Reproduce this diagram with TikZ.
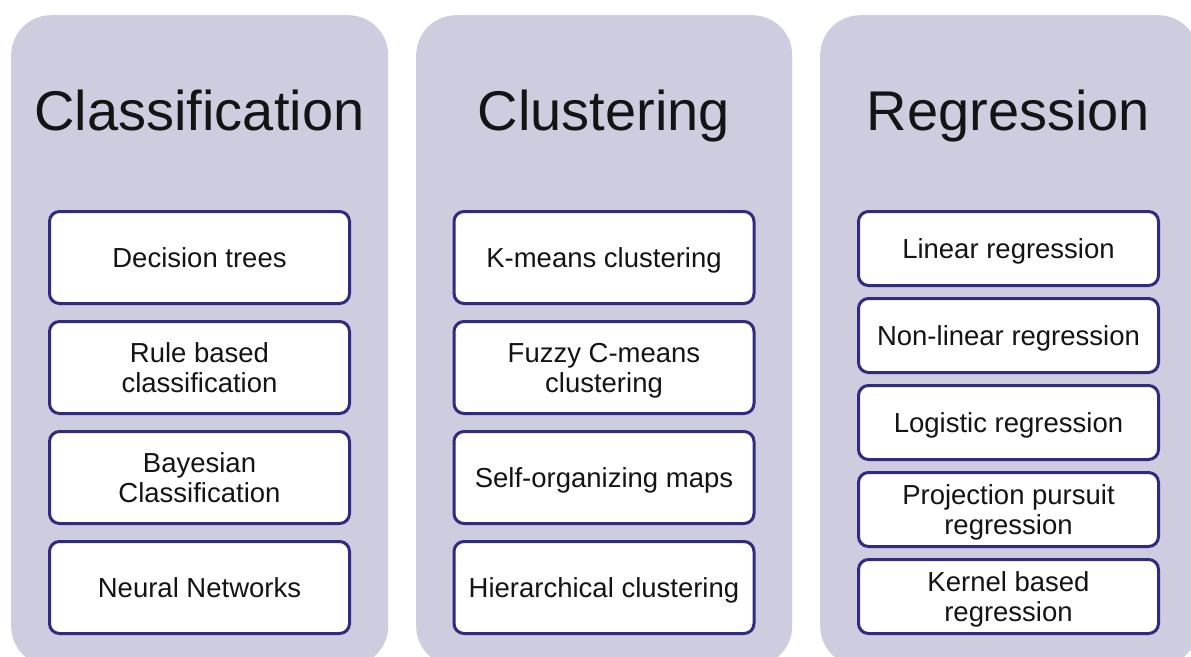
\documentclass[tikz,border=0pt]{standalone}
\usepackage{fontspec}
\setmainfont{Liberation Sans}
\definecolor{panelfill}{HTML}{CDCDDF}
\definecolor{boxline}{HTML}{302B80}
\definecolor{ink}{HTML}{141414}
\tikzset{
  panel/.style={fill=panelfill, draw=none, rounded corners=40pt,
    minimum height=651pt, anchor=north west, inner sep=0pt},
  item/.style={draw=boxline, line width=3pt, fill=white, rounded corners=10pt,
    minimum width=300pt, align=center, text=ink, inner sep=0pt,
    text depth=0pt, font=\fontsize{27.5}{30}\selectfont},
  tallitem/.style={item, minimum height=92pt},
  shortitem/.style={item, minimum height=74pt},
  title/.style={anchor=base, text=ink, inner sep=0pt,
    font=\fontsize{56}{60}\selectfont}
}
\begin{document}
\begin{tikzpicture}[x=1pt, y=-1pt]
  \useasboundingbox (0,0) rectangle (1191,656);
  \clip (0,0) rectangle (1191,656);
  \fill[white] (0,0) rectangle (1191,656);

  % three category panels
  \node[panel, minimum width=377pt] (pcls) at (11,15) {};
  \node[panel, minimum width=376pt] (pclu) at (416,15) {};
  \node[panel, minimum width=378pt] (preg) at (820,15) {};

  % panel titles
  \node[title] (tcls) at (199.5,130) {Classification};
  \node[title] (tclu) at (604,130) {Clustering};
  \node[title] (treg) at (1008.5,130) {Regression};

  % classification methods
  \node[tallitem] (c1) at (199.5,257.5) {Decision trees};
  \node[tallitem] (c2) at (199.5,367.5) {Rule based\\classification};
  \node[tallitem] (c3) at (199.5,477.5) {Bayesian\\Classification};
  \node[tallitem] (c4) at (199.5,587.5) {Neural Networks};

  % clustering methods
  \node[tallitem] (k1) at (604,257.5) {K-means clustering};
  \node[tallitem] (k2) at (604,367.5) {Fuzzy C-means\\clustering};
  \node[tallitem] (k3) at (604,477.5) {Self-organizing maps};
  \node[tallitem] (k4) at (604,587.5) {Hierarchical clustering};

  % regression methods
  \node[shortitem] (r1) at (1008.5,248.5) {Linear regression};
  \node[shortitem] (r2) at (1008.5,335.5) {Non-linear regression};
  \node[shortitem] (r3) at (1008.5,422.5) {Logistic regression};
  \node[shortitem] (r4) at (1008.5,509.5) {Projection pursuit\\regression};
  \node[shortitem] (r5) at (1008.5,596.5) {Kernel based\\regression};
\end{tikzpicture}
\end{document}
